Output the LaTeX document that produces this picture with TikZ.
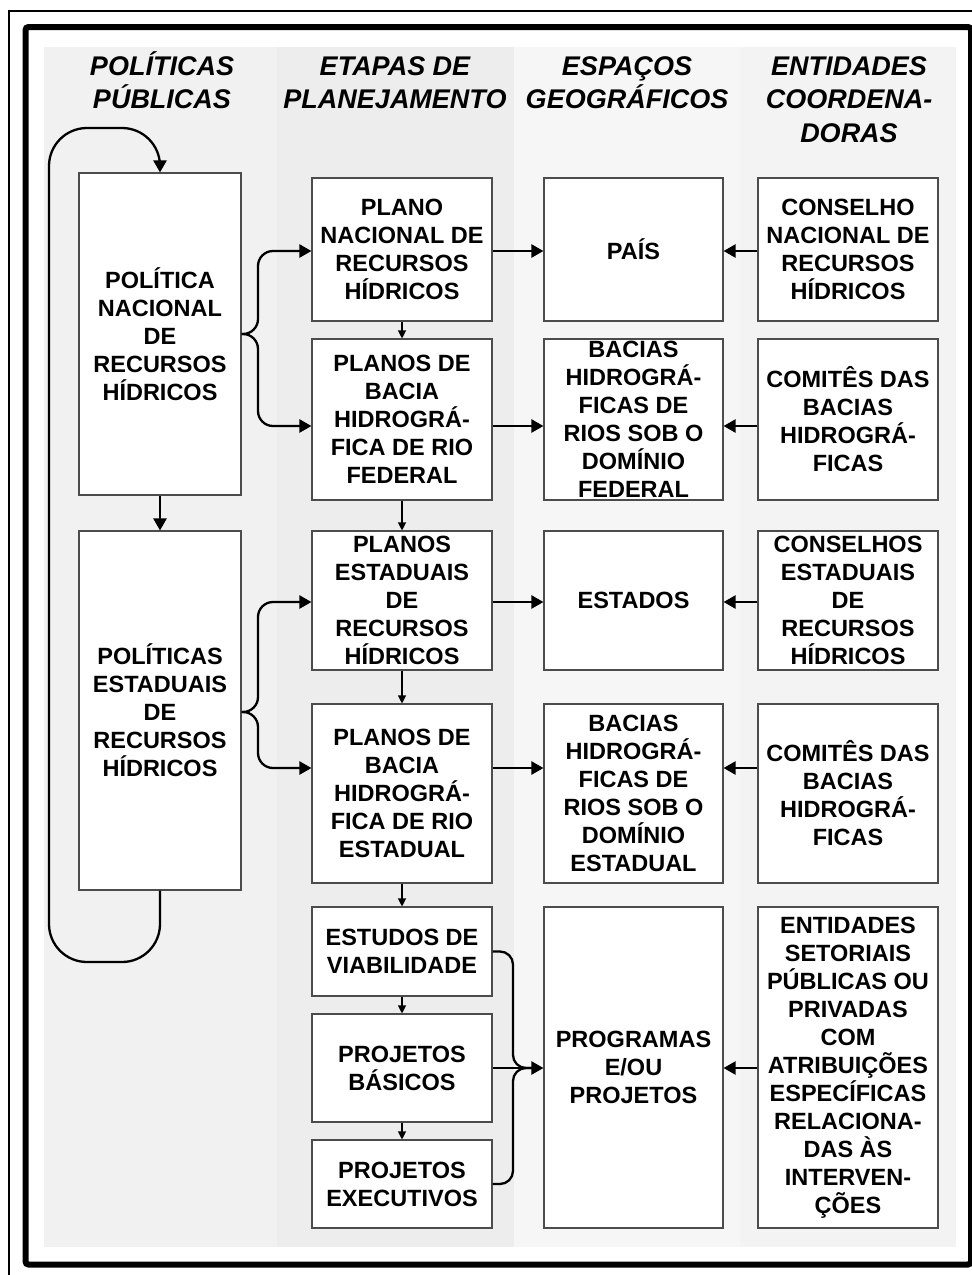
\documentclass[tikz,border=0pt]{standalone}
\usepackage{fontspec}
\setmainfont{Liberation Sans}
\usetikzlibrary{arrows.meta,calc}
\definecolor{bgA}{HTML}{F1F1F1}
\definecolor{bgB}{HTML}{EDEDED}
\definecolor{bgC}{HTML}{F6F6F6}
\definecolor{bgD}{HTML}{F3F3F3}
\begin{document}
\begin{tikzpicture}[x=1pt,y=-1pt,
  box/.style={draw=black!70, fill=white, line width=1.1pt, inner sep=0pt, align=center,
    font=\fontsize{23.5}{28}\selectfont\bfseries},
  head/.style={align=center, inner sep=0pt, anchor=base,
    font=\fontsize{27}{33.5}\selectfont\bfseries\itshape},
  conn/.style={line width=2.3pt, -{Triangle[length=12pt,width=13pt]}},
  link/.style={line width=2.3pt},
  small/.style={line width=1.1pt, -{Triangle[length=8pt,width=8pt]}},
  loopline/.style={line width=2.3pt, rounded corners=38pt, -{Triangle[length=12pt,width=13pt]}},
]
\useasboundingbox (0,0) rectangle (972,1275);
\fill[white] (0,0) rectangle (972,1275);
% frames
\draw[line width=2pt] (9,1275) -- (9,11) -- (972,11);
\draw[line width=6pt, rounded corners=3pt] (25.5,27) rectangle (971,1264.5);
% column backgrounds
\fill[bgA] (44,47) rectangle (277,1247);
\fill[bgB] (277,47) rectangle (514,1247);
\fill[bgC] (514,47) rectangle (740,1247);
\fill[bgD] (740,47) rectangle (956,1247);
% headers (anchor base = baseline of last line)
\node[head] (h1) at (162,108.5) {POLÍTICAS\\PÚBLICAS};
\node[head] (h2) at (395,108.5) {ETAPAS DE\\PLANEJAMENTO};
\node[head] (h3) at (627,108.5) {ESPAÇOS\\GEOGRÁFICOS};
\node[head] (h4) at (849,142) {ENTIDADES\\COORDENA-\\DORAS};
% column 1
\node[box, minimum width=162pt, minimum height=322pt] (A) at (160,334) {POLÍTICA\\NACIONAL\\DE\\RECURSOS\\HÍDRICOS};
\node[box, minimum width=162pt, minimum height=359pt] (B) at (160,710.5) {POLÍTICAS\\ESTADUAIS\\DE\\RECURSOS\\HÍDRICOS};
% column 2
\node[box, minimum width=180pt, minimum height=143pt] (P1) at (402,249.5) {PLANO\\NACIONAL DE\\RECURSOS\\HÍDRICOS};
\node[box, minimum width=180pt, minimum height=161pt] (P2) at (402,419.5) {PLANOS DE\\BACIA\\HIDROGRÁ-\\FICA DE RIO\\FEDERAL};
\node[box, minimum width=180pt, minimum height=139pt] (P3) at (402,600.5) {PLANOS\\ESTADUAIS\\DE\\RECURSOS\\HÍDRICOS};
\node[box, minimum width=180pt, minimum height=179pt] (P4) at (402,793.5) {PLANOS DE\\BACIA\\HIDROGRÁ-\\FICA DE RIO\\ESTADUAL};
\node[box, minimum width=180pt, minimum height=89pt] (P5) at (402,951.5) {ESTUDOS DE\\VIABILIDADE};
\node[box, minimum width=180pt, minimum height=108pt] (P6) at (402,1068) {PROJETOS\\BÁSICOS};
\node[box, minimum width=180pt, minimum height=88pt] (P7) at (402,1184) {PROJETOS\\EXECUTIVOS};
% column 3
\node[box, minimum width=179pt, minimum height=143pt] (C1) at (633.5,249.5) {PAÍS};
\node[box, minimum width=179pt, minimum height=161pt] (C2) at (633.5,419.5) {BACIAS\\HIDROGRÁ-\\FICAS DE\\RIOS SOB O\\DOMÍNIO\\FEDERAL};
\node[box, minimum width=179pt, minimum height=139pt] (C3) at (633.5,600.5) {ESTADOS};
\node[box, minimum width=179pt, minimum height=179pt] (C4) at (633.5,793.5) {BACIAS\\HIDROGRÁ-\\FICAS DE\\RIOS SOB O\\DOMÍNIO\\ESTADUAL};
\node[box, minimum width=179pt, minimum height=321pt] (C5) at (633.5,1067.5) {PROGRAMAS\\E/OU\\PROJETOS};
% column 4
\node[box, minimum width=180pt, minimum height=143pt] (K1) at (848,249.5) {CONSELHO\\NACIONAL DE\\RECURSOS\\HÍDRICOS};
\node[box, minimum width=180pt, minimum height=161pt] (K2) at (848,419.5) {COMITÊS DAS\\BACIAS\\HIDROGRÁ-\\FICAS};
\node[box, minimum width=180pt, minimum height=139pt] (K3) at (848,600.5) {CONSELHOS\\ESTADUAIS\\DE\\RECURSOS\\HÍDRICOS};
\node[box, minimum width=180pt, minimum height=179pt] (K4) at (848,793.5) {COMITÊS DAS\\BACIAS\\HIDROGRÁ-\\FICAS};
\node[box, minimum width=180pt, minimum height=321pt] (K5) at (848,1067.5) {ENTIDADES\\SETORIAIS\\PÚBLICAS OU\\PRIVADAS\\COM\\ATRIBUIÇÕES\\ESPECÍFICAS\\RELACIONA-\\DAS ÀS\\INTERVEN-\\ÇÕES};
% helper levels
\coordinate (r1) at (0,251);
\coordinate (r2) at (0,426);
\coordinate (r3) at (0,602);
\coordinate (r4) at (0,768);
\coordinate (r5) at (0,1068);
\coordinate (bx) at (258,0);
\coordinate (mx) at (513,0);
\coordinate (lx) at (49,0);
\coordinate (ty) at (0,128);
\coordinate (by) at (0,962);
% loop
\draw[loopline] (B.south) -- (B.south |- by) -- (lx |- by) -- (lx |- ty) -- (A.north |- ty) -- (A.north);
\draw[conn] (A.south) -- (B.north);
% braces col1 -> col2
\draw[conn, rounded corners=15pt] (A.east) -- (bx |- A.east) -- (bx |- r1) -- (P1.west |- r1);
\draw[conn, rounded corners=15pt] (A.east) -- (bx |- A.east) -- (bx |- r2) -- (P2.west |- r2);
\coordinate (Bm) at (B.east |- 0,712);
\draw[conn, rounded corners=15pt] (Bm) -- (bx |- Bm) -- (bx |- r3) -- (P3.west |- r3);
\draw[conn, rounded corners=15pt] (Bm) -- (bx |- Bm) -- (bx |- r4) -- (P4.west |- r4);
% col2 vertical
\draw[small] (P1.south) -- (P2.north);
\draw[small] (P2.south) -- (P3.north);
\draw[small] (P3.south) -- (P4.north);
\draw[small] (P4.south) -- (P5.north);
\draw[small] (P5.south) -- (P6.north);
\draw[small] (P6.south) -- (P7.north);
% col2 -> col3
\draw[conn] (P1.east |- r1) -- (C1.west |- r1);
\draw[conn] (P2.east |- r2) -- (C2.west |- r2);
\draw[conn] (P3.east |- r3) -- (C3.west |- r3);
\draw[conn] (P4.east |- r4) -- (C4.west |- r4);
\coordinate (mj) at (532,1068);
\draw[link, rounded corners=13pt] (P5.east) -- (mx |- P5.east) -- (mx |- r5) -- (mj);
\draw[link, rounded corners=13pt] (P7.east) -- (mx |- P7.east) -- (mx |- r5) -- (mj);
\draw[conn] (P6.east |- r5) -- (C5.west |- r5);
% col4 -> col3
\draw[conn] (K1.west |- r1) -- (C1.east |- r1);
\draw[conn] (K2.west |- r2) -- (C2.east |- r2);
\draw[conn] (K3.west |- r3) -- (C3.east |- r3);
\draw[conn] (K4.west |- r4) -- (C4.east |- r4);
\draw[conn] (K5.west |- r5) -- (C5.east |- r5);
\end{tikzpicture}
\end{document}
